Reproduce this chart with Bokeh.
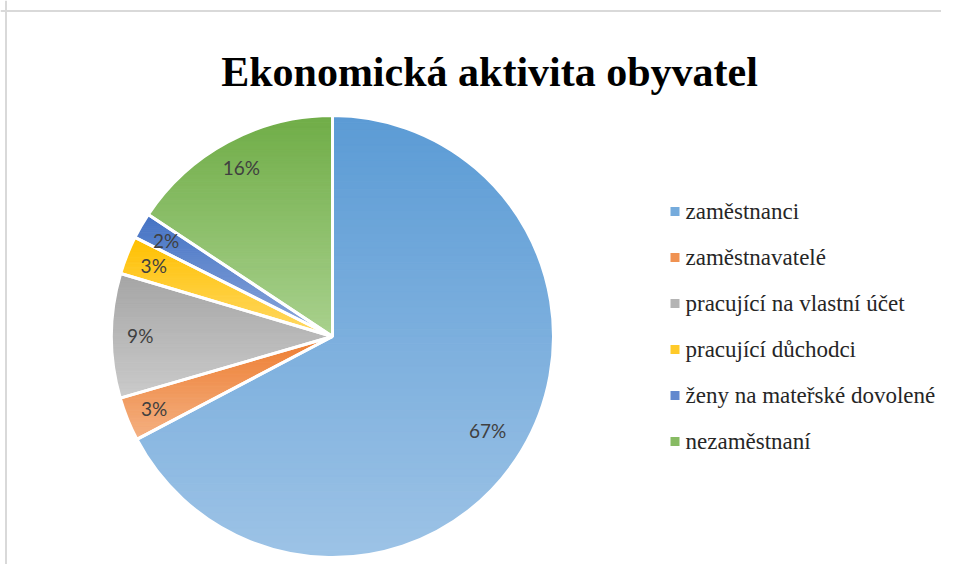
import numpy as np
from bokeh.plotting import figure
from bokeh.models import ColumnDataSource, Label, Span, Range1d
from bokeh.embed import file_html
from bokeh.resources import INLINE

# ---- data ----
title_text = "Ekonomická aktivita obyvatel"
categories = ["zaměstnanci", "zaměstnavatelé", "pracující na vlastní účet",
              "pracující důchodci", "ženy na mateřské dovolené", "nezaměstnaní"]
shares = [67.3, 3.2, 9.1, 2.8, 1.9, 15.7]

# ---- style ----
top_colors = ["#5B9BD5", "#ED7D31", "#A5A5A5", "#FFC000", "#4472C4", "#70AD47"]
bottom_colors = ["#9DC3E6", "#F4B183", "#CBCBCB", "#FFD966", "#8FAADC", "#A9D18E"]

W, H = 941, 564
unit = 221.0                 # px per data unit (pie radius = 1)
cx_px, cy_px = 332.0, 336.0  # pie centre in figure pixels (from top-left)

x0 = -cx_px / unit
x1 = (W - cx_px) / unit
y0 = -(H - cy_px) / unit
y1 = cy_px / unit


def px_x(px):
    return x0 + px / unit


def px_y(py):
    return y1 - py / unit


p = figure(width=W, height=H, x_range=Range1d(x0, x1), y_range=Range1d(y0, y1),
           output_backend="svg", toolbar_location=None, min_border=0,
           x_axis_type=None, y_axis_type=None, outline_line_color=None,
           background_fill_color="white", border_fill_color="white")
p.grid.visible = False

# chart border (left & top visible in the reference)
p.add_layout(Span(location=px_x(5.5), dimension="height", line_color="#D9D9D9", line_width=2))
p.add_layout(Span(location=px_y(10.5), dimension="width", line_color="#D9D9D9", line_width=2))


def hex2rgb(h):
    h = h.lstrip("#")
    return np.array([int(h[i:i + 2], 16) for i in (0, 2, 4)], dtype=float)


def mix(c1, c2, t):
    a, b = hex2rgb(c1), hex2rgb(c2)
    c = a * (1 - t) + b * t
    return "#%02x%02x%02x" % tuple(int(round(v)) for v in c)


def clip_half(pts, yc, keep_above):
    out = []
    n = len(pts)
    for i in range(n):
        cur, prev = pts[i], pts[i - 1]
        cin = cur[1] >= yc if keep_above else cur[1] <= yc
        pin = prev[1] >= yc if keep_above else prev[1] <= yc
        if cin:
            if not pin:
                t = (yc - prev[1]) / (cur[1] - prev[1])
                out.append((prev[0] + t * (cur[0] - prev[0]), yc))
            out.append(cur)
        elif pin:
            t = (yc - prev[1]) / (cur[1] - prev[1])
            out.append((prev[0] + t * (cur[0] - prev[0]), yc))
    return out


total = sum(shares)
cum = np.concatenate([[0], np.cumsum(shares)]) / total * 2 * np.pi  # clockwise from top
NB = 60
for i, cat in enumerate(categories):
    a1, a2 = cum[i], cum[i + 1]
    th = np.linspace(a1, a2, max(8, int((a2 - a1) * 80)))
    poly = [(0.0, 0.0)] + [(np.sin(t), np.cos(t)) for t in th]
    ys_all = [q[1] for q in poly]
    ytop, ybot = max(ys_all), min(ys_all)
    h = (ytop - ybot) / NB
    xs_b, ys_b, cols = [], [], []
    for k in range(NB):
        lo = ybot + k * h
        hi = lo + h
        pc = clip_half(clip_half(poly, lo, True), hi, False)
        if len(pc) < 3:
            continue
        t = (ytop - (lo + hi) / 2) / (ytop - ybot)
        xs_b.append([q[0] for q in pc])
        ys_b.append([q[1] for q in pc])
        cols.append(mix(top_colors[i], bottom_colors[i], t))
    src = ColumnDataSource(dict(xs=xs_b, ys=ys_b, c=cols))
    p.patches("xs", "ys", source=src, fill_color="c", line_color="c", line_width=1)

# white separators / outlines
wsrc = ColumnDataSource(dict(start=[np.pi / 2 - cum[i + 1] for i in range(len(shares))],
                             end=[np.pi / 2 - cum[i] for i in range(len(shares))]))
p.wedge(x=0, y=0, radius=1, start_angle="start", end_angle="end", source=wsrc,
        fill_alpha=0, line_color="white", line_width=3)

# data labels
mids = (cum[:-1] + cum[1:]) / 2
for i, m in enumerate(mids):
    rr = 0.82 if shares[i] / total > 0.5 else 0.87
    p.add_layout(Label(x=rr * np.sin(m), y=rr * np.cos(m),
                       text="%d%%" % int(round(shares[i] / total * 100)),
                       text_font="Lato", text_font_size="19px", text_align="center",
                       text_baseline="middle", text_color="#404040"))

# title
p.add_layout(Label(x=489, y=H - 71, x_units="screen", y_units="screen", text=title_text,
                   text_font="Liberation Serif", text_font_size="42px", text_font_style="bold",
                   text_align="center", text_baseline="alphabetic", text_color="black"))

# legend (markers + serif labels)
n = len(categories)
leg_rows = [211 + 46 * i for i in range(n)]
leg_src = ColumnDataSource(dict(
    mx=[px_x(674.5)] * n,
    y=[px_y(r) for r in leg_rows],
    c=[mix(top_colors[i], bottom_colors[i], 0.4) for i in range(n)]))
p.scatter(x="mx", y="y", source=leg_src, marker="square", size=9, fill_color="c", line_color=None)
for i, cat in enumerate(categories):
    p.add_layout(Label(x=px_x(685), y=px_y(leg_rows[i]), text=cat,
                       text_font="Liberation Serif", text_font_size="23px",
                       text_align="left", text_baseline="middle", text_color="#262626"))

open("out.html", "w").write(file_html(p, INLINE))
